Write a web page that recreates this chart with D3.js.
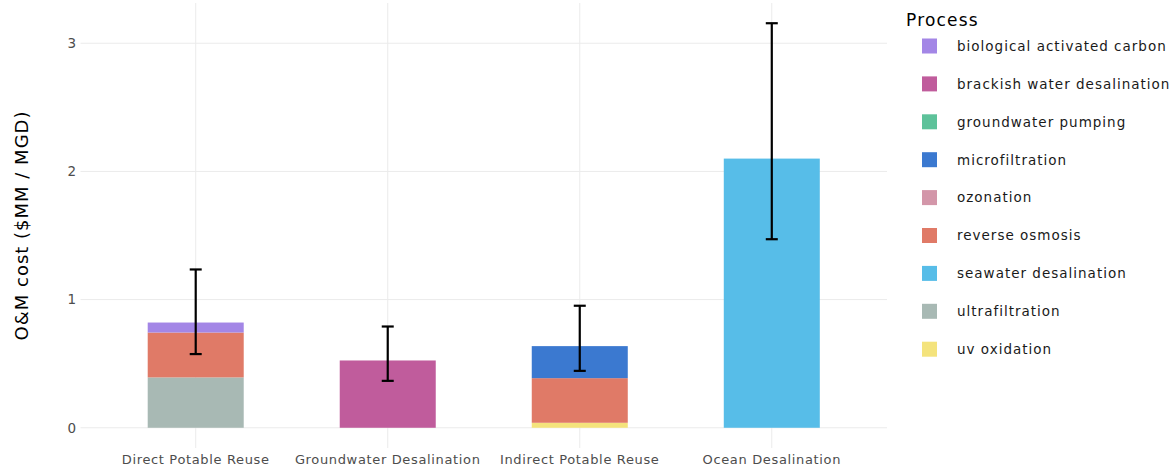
<!DOCTYPE html>
<html>
<head>
<meta charset="utf-8">
<script src="https://cdn.jsdelivr.net/npm/d3@7/dist/d3.min.js"></script>
<style>
  body { margin: 0; background: #fff; }
  svg { display: block; font-family: "DejaVu Sans", Verdana, sans-serif; }
</style>
</head>
<body>
<svg id="chart" width="1176" height="472"></svg>
<script>
// Treatment trains on the x axis
const categories = ["Direct Potable Reuse", "Groundwater Desalination", "Indirect Potable Reuse", "Ocean Desalination"];

// Process legend (alphabetical) and colours
const processes = [
  "biological activated carbon", "brackish water desalination", "groundwater pumping",
  "microfiltration", "ozonation", "reverse osmosis", "seawater desalination",
  "ultrafiltration", "uv oxidation"
];
const processColors = [
  "#a386e6", "#c05c9c", "#5dc29a", "#3b79d0", "#d396a9",
  "#e07a67", "#57bde8", "#a8b9b4", "#f4e37c"
];

// O&M cost per process, one value per category ($MM / MGD)
const biologicalActivatedCarbon = [0.078, 0, 0, 0];
const brackishWaterDesalination = [0, 0.525, 0, 0];
const groundwaterPumping        = [0, 0, 0, 0];
const microfiltration           = [0, 0, 0.25, 0];
const ozonation                 = [0, 0, 0, 0];
const reverseOsmosis            = [0.35, 0, 0.348, 0];
const seawaterDesalination      = [0, 0, 0, 2.10];
const ultrafiltration           = [0.393, 0, 0, 0];
const uvOxidation               = [0, 0, 0.039, 0];

// Uncertainty range of the total cost
const errorLow  = [0.575, 0.366, 0.444, 1.471];
const errorHigh = [1.235, 0.790, 0.952, 3.156];

const yTicks = [0, 1, 2, 3];

const seriesValues = [
  biologicalActivatedCarbon, brackishWaterDesalination, groundwaterPumping,
  microfiltration, ozonation, reverseOsmosis, seawaterDesalination,
  ultrafiltration, uvOxidation
];

const svg = d3.select("#chart");
const plot = { left: 80.5, right: 887, top: 3, bottom: 448 };

// Discrete axis padded by 0.6 of a step on both sides
const x = d3.scaleLinear().domain([0.4, categories.length + 0.6]).range([plot.left, plot.right]);
const step = x(2) - x(1);
const barWidth = step * 0.5;

const yMax = d3.max(errorHigh);
const pad = yMax * 0.05;
const y = d3.scaleLinear().domain([-pad, yMax + pad]).range([plot.bottom, plot.top]);

// Grid
const grid = svg.append("g");
grid.selectAll("line.h").data(yTicks).join("line")
  .attr("x1", plot.left).attr("x2", plot.right)
  .attr("y1", d => y(d)).attr("y2", d => y(d))
  .attr("stroke", "#ebebeb").attr("stroke-width", 1);
grid.selectAll("line.v").data(categories).join("line")
  .attr("x1", (d, i) => x(i + 1)).attr("x2", (d, i) => x(i + 1))
  .attr("y1", plot.top).attr("y2", plot.bottom)
  .attr("stroke", "#ebebeb").attr("stroke-width", 1);

// Stacked bars: the last process in the legend sits at the bottom
const rows = categories.map((c, i) => {
  const r = { category: c, index: i };
  processes.forEach((p, k) => { r[p] = seriesValues[k][i]; });
  return r;
});
const stack = d3.stack().keys(processes.slice().reverse());
const layers = stack(rows);
const colorOf = d3.scaleOrdinal().domain(processes).range(processColors);

svg.append("g").selectAll("g").data(layers).join("g")
  .attr("fill", d => colorOf(d.key))
  .selectAll("rect").data(d => d.filter(s => s[1] - s[0] > 0)).join("rect")
  .attr("x", d => x(d.data.index + 1) - barWidth / 2)
  .attr("width", barWidth)
  .attr("y", d => y(d[1]))
  .attr("height", d => y(d[0]) - y(d[1]));

// Error bars
const eb = svg.append("g").attr("stroke", "#000").attr("stroke-width", 2.2);
categories.forEach((c, i) => {
  const cx = x(i + 1);
  eb.append("line").attr("x1", cx).attr("x2", cx).attr("y1", y(errorLow[i])).attr("y2", y(errorHigh[i]));
  [errorLow[i], errorHigh[i]].forEach(v => {
    eb.append("line").attr("x1", cx - 6).attr("x2", cx + 6).attr("y1", y(v)).attr("y2", y(v));
  });
});

// Y tick labels
svg.append("g").selectAll("text").data(yTicks).join("text")
  .attr("x", 76).attr("y", d => y(d)).attr("dy", "0.36em")
  .attr("text-anchor", "end").attr("fill", "#4d4d4d").attr("font-size", 13.5)
  .text(d => d);

// X tick labels
svg.append("g").selectAll("text").data(categories).join("text")
  .attr("x", (d, i) => x(i + 1)).attr("y", 464)
  .attr("text-anchor", "middle").attr("fill", "#4d4d4d").attr("font-size", 13)
  .attr("letter-spacing", 0.65)
  .text(d => d);

// Y axis title
svg.append("text")
  .attr("transform", `translate(28,${(plot.top + plot.bottom) / 2}) rotate(-90)`)
  .attr("text-anchor", "middle").attr("fill", "#000").attr("font-size", 18)
  .attr("letter-spacing", 1.0)
  .text("O&M cost ($MM / MGD)");

// Legend
const legend = svg.append("g");
legend.append("text").attr("x", 906).attr("y", 26)
  .attr("fill", "#000").attr("font-size", 17).attr("letter-spacing", 1.2).text("Process");
const items = legend.selectAll("g.item").data(processes).join("g")
  .attr("transform", (d, i) => `translate(0,${46 + i * 37.9})`);
items.append("rect").attr("x", 922).attr("y", -7.5).attr("width", 15).attr("height", 15)
  .attr("fill", d => colorOf(d));
items.append("text").attr("x", 957).attr("y", 0).attr("dy", "0.36em")
  .attr("fill", "#1a1a1a").attr("font-size", 13.5).attr("letter-spacing", 1.0).text(d => d);
</script>
</body>
</html>
